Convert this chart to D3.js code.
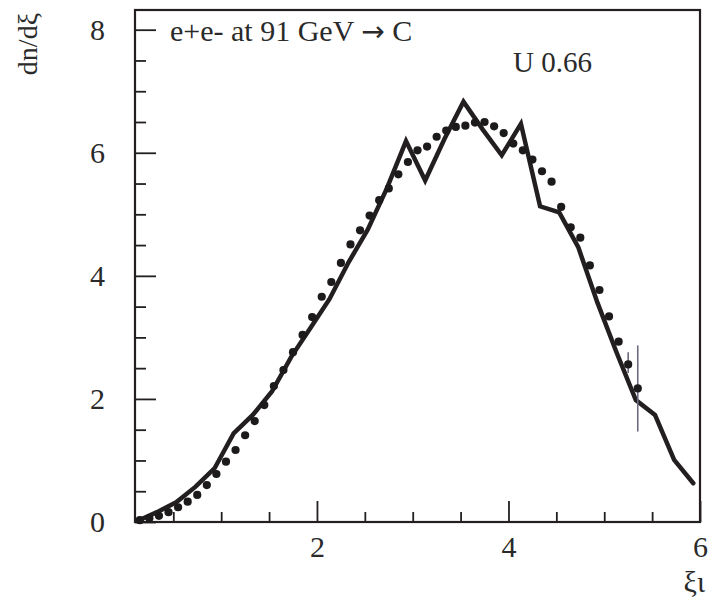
<!DOCTYPE html>
<html>
<head>
<meta charset="utf-8">
<script src="https://cdn.jsdelivr.net/npm/d3@7"></script>
<style>
  body { margin: 0; background: #fff; }
  svg { display: block; }
</style>
</head>
<body>
<svg id="chart" width="718" height="602"></svg>
<script>
// model curve (solid line), one vertex every 0.2 in xi
const lineX = [0.13, 0.33, 0.53, 0.73, 0.93, 1.13, 1.33, 1.53, 1.73, 1.93,
  2.13, 2.33, 2.53, 2.73, 2.93, 3.13, 3.33, 3.53, 3.73, 3.93,
  4.13, 4.33, 4.53, 4.73, 4.93, 5.13, 5.33, 5.53, 5.73, 5.93];
const lineY = [0.02, 0.16, 0.32, 0.57, 0.87, 1.44, 1.74, 2.12, 2.68, 3.15,
  3.62, 4.22, 4.75, 5.42, 6.19, 5.55, 6.22, 6.83, 6.38, 5.96,
  6.47, 5.13, 5.03, 4.46, 3.56, 2.75, 1.98, 1.74, 1.01, 0.63];

// data points (dots), one every 0.1
const dotX = [0.15, 0.25, 0.35, 0.45, 0.55, 0.65, 0.75, 0.85, 0.95, 1.05,
  1.15, 1.25, 1.35, 1.45, 1.55, 1.65, 1.75, 1.85, 1.95, 2.05,
  2.15, 2.25, 2.35, 2.45, 2.55, 2.65, 2.75, 2.85, 2.95, 3.05,
  3.15, 3.25, 3.35, 3.45, 3.55, 3.65, 3.75, 3.85, 3.95, 4.05,
  4.15, 4.25, 4.35, 4.45, 4.55, 4.65, 4.75, 4.85, 4.95, 5.05,
  5.15, 5.25, 5.35];
const dotY = [0.03, 0.06, 0.10, 0.16, 0.24, 0.33, 0.44, 0.60, 0.78, 0.98,
  1.17, 1.41, 1.64, 1.90, 2.21, 2.47, 2.76, 3.04, 3.33, 3.66,
  3.90, 4.21, 4.51, 4.74, 4.98, 5.23, 5.42, 5.65, 5.85, 6.04,
  6.10, 6.26, 6.36, 6.42, 6.44, 6.49, 6.50, 6.43, 6.32, 6.15,
  6.04, 5.89, 5.70, 5.53, 5.12, 4.79, 4.62, 4.17, 3.77, 3.34,
  2.93, 2.56, 2.17];

// error bars on the last points
const errX = [5.25, 5.35];
const errLo = [2.42, 1.47];
const errHi = [2.76, 2.87];

const xMajor = [2, 4, 6];
const xMinor = [0.5, 1, 1.5, 2.5, 3, 3.5, 4.5, 5, 5.5];
const yMajor = [0, 2, 4, 6, 8];
const yMinor = [0.5, 1, 1.5, 2.5, 3, 3.5, 4.5, 5, 5.5, 6.5, 7, 7.5];

const svg = d3.select("#chart");
const font = "'Liberation Serif', 'DejaVu Serif', serif";
const ink = "#231f20";
const textInk = "#2a2a2a";

const margin = { left: 135, right: 18, top: 10, bottom: 80 };
const width = 718, height = 602;

const x = d3.scaleLinear().domain([0.1, 6]).range([margin.left, width - margin.right]);
const y = d3.scaleLinear().domain([0, 8.32]).range([height - margin.bottom, margin.top]);

// frame
svg.append("rect")
  .attr("x", x.range()[0])
  .attr("y", y.range()[1])
  .attr("width", x.range()[1] - x.range()[0])
  .attr("height", y.range()[0] - y.range()[1])
  .attr("fill", "none")
  .attr("stroke", ink)
  .attr("stroke-width", 2.2);

// y axis: major + minor ticks pointing inward
svg.append("g")
  .attr("transform", `translate(${x.range()[0]},0)`)
  .call(d3.axisLeft(y).tickValues(yMajor).tickFormat(d3.format("d"))
    .tickSizeInner(-21).tickSizeOuter(0).tickPadding(30));
svg.append("g")
  .attr("transform", `translate(${x.range()[0]},0)`)
  .call(d3.axisLeft(y).tickValues(yMinor).tickSizeInner(-11).tickSizeOuter(0).tickFormat(""));

// x axis
const gx = svg.append("g")
  .attr("transform", `translate(0,${y.range()[0]})`)
  .call(d3.axisBottom(x).tickValues(xMajor).tickFormat(d3.format("d"))
    .tickSizeInner(-21).tickSizeOuter(0).tickPadding(14));
svg.append("g")
  .attr("transform", `translate(0,${y.range()[0]})`)
  .call(d3.axisBottom(x).tickValues(xMinor).tickSizeInner(-10).tickSizeOuter(0).tickFormat(""));

svg.selectAll(".domain").remove();
svg.selectAll(".tick line").attr("stroke", ink).attr("stroke-width", 1.8);
svg.selectAll(".tick text")
  .attr("fill", textInk)
  .style("font-family", font)
  .style("font-size", "30px");
gx.selectAll(".tick text").attr("dy", "0.71em");

// model line
const line = d3.line()
  .x((d, i) => x(lineX[i]))
  .y((d) => y(d));

svg.append("path")
  .datum(lineY)
  .attr("d", line)
  .attr("fill", "none")
  .attr("stroke", ink)
  .attr("stroke-width", 4.5)
  .attr("stroke-linejoin", "miter")
  .attr("stroke-linecap", "round");

// error bars
svg.selectAll("line.err")
  .data(errX)
  .join("line")
  .attr("class", "err")
  .attr("x1", (d) => x(d))
  .attr("x2", (d) => x(d))
  .attr("y1", (d, i) => y(errLo[i]))
  .attr("y2", (d, i) => y(errHi[i]))
  .attr("stroke", "#6b6b7e")
  .attr("stroke-width", 1.6);

// dots
svg.selectAll("circle.dot")
  .data(dotY)
  .join("circle")
  .attr("class", "dot")
  .attr("cx", (d, i) => x(dotX[i]))
  .attr("cy", (d) => y(d))
  .attr("r", 4.1)
  .attr("fill", "#1c1a1a");

// texts
const title = svg.append("text")
  .attr("x", 170)
  .attr("y", 41)
  .attr("fill", textInk)
  .style("font-family", font)
  .style("font-size", "30px");
title.append("tspan").text("e+e- at 91 GeV ");
title.append("tspan").style("font-family", "'DejaVu Sans', sans-serif").style("font-size", "28px").text("\u2192");
title.append("tspan").text(" C");

svg.append("text")
  .attr("x", 513)
  .attr("y", 72)
  .attr("fill", textInk)
  .style("font-family", font)
  .style("font-size", "29px")
  .text("U 0.66");

svg.append("text")
  .attr("transform", "translate(37,44) rotate(-90)")
  .attr("text-anchor", "middle")
  .attr("fill", textInk)
  .style("font-family", font)
  .style("font-size", "28px")
  .text("dn/d\u03be");

svg.append("text")
  .attr("x", 705)
  .attr("y", 592)
  .attr("text-anchor", "end")
  .attr("fill", textInk)
  .style("font-family", font)
  .style("font-size", "30px")
  .text("\u03be\u03b9");
</script>
</body>
</html>
